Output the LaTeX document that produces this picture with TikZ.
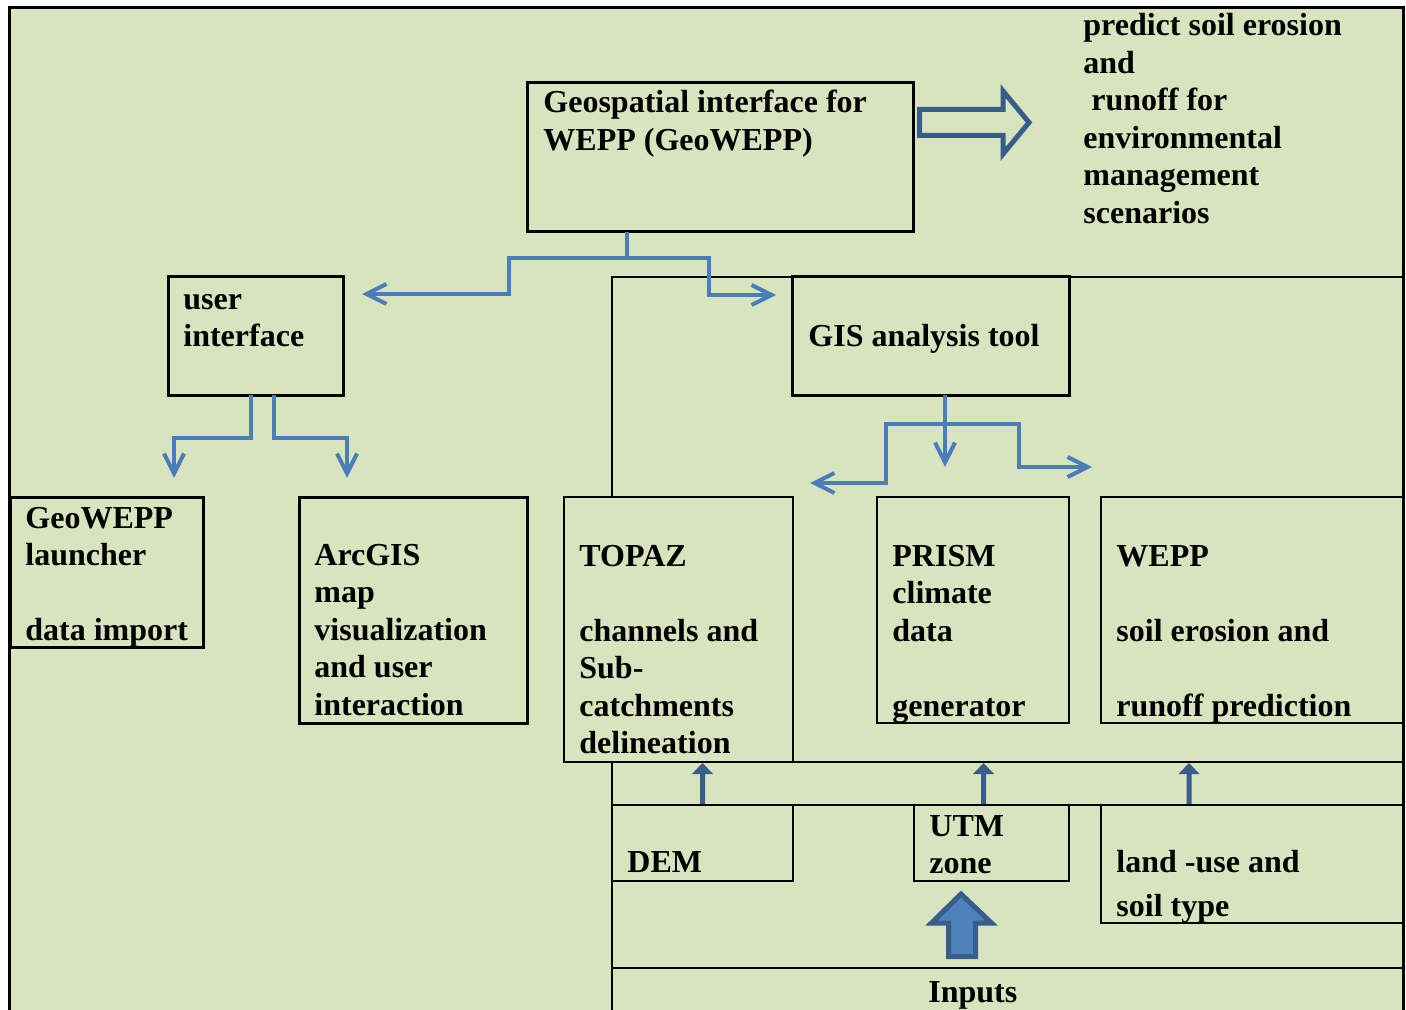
\documentclass[tikz,border=0pt]{standalone}
\usepackage{fontspec}
\setmainfont{Liberation Serif}
\usepackage[]{xcolor}
\usetikzlibrary{arrows.meta}
\usetikzlibrary{fit}
\definecolor{mybg}{HTML}{D7E4BD}
\definecolor{myblue}{HTML}{4A7EBB}
\definecolor{mydarkblue}{HTML}{385D8A}
\definecolor{myfill}{HTML}{4F81BD}
\tikzset{
  >=latex,
  box/.style={draw=black,line width=1.5pt,fill=mybg,inner sep=0,outer sep=0},
  box thin/.style={box,line width=1pt},
  txt/.style={font=\fontsize{16}{18.75}\selectfont\bfseries,inner sep=0,anchor=base west},
  connect/.style={line width=2pt,myblue},
  connect arrow/.style={-{Straight Barb[length=10pt,width=10pt]},line width=2pt,myblue},
  grid line/.style={line width=1pt,black}
}
\newcommand{\inarrow}[2]{\fill[mydarkblue] (#1) ++(#2,-1) ++(-2.5,0) -- ++(0,-30) -- ++(-8,0) -- ++(10.5,-11) -- ++(10.5,11) -- ++(-8,0) -- ++(0,30) -- cycle}
\newcommand{\lines}[1]{\begin{tabular}[t]{@{}l@{}}#1\end{tabular}}

\begin{document}
\begin{tikzpicture}[x=0.5pt,y=-0.5pt]
  \useasboundingbox (0,0) rectangle (1406,1010);
  \fill[mybg] (10,8) rectangle (1403,1010);
  % table lines on the right
  \draw[grid line] (1403,277) -- (612,277) -- (612,1010);
  \draw[grid line] (564,762) -- (1403,762);
  \draw[grid line] (612,805) -- (1403,805);
  \draw[grid line] (612,968) -- (1403,968);

  \node[box,fit={(527,83) (913,232)}] (geo) {};
  \node[box,fit={(168,277) (343,395)}] (ui) {};
  \node[box,fit={(792,277) (1069,395)}] (gis) {};
  \node[box,fit={(10,497) (203,647)}] (launcher) {};
  \node[box,fit={(299,497) (527,723)}] (arcgis) {};
  \node[box thin,fit={(564,497) (793,762)}] (topaz) {};
  \node[box thin,fit={(877,497) (1069,723)}] (prism) {};
  \node[box thin,fit={(1101,497) (1403,723)}] (wepp) {};
  \node[box thin,fit={(612,805) (793,881)}] (dem) {};
  \node[box thin,fit={(914,805) (1069,881)}] (utm) {};
  \node[box thin,fit={(1101,805) (1403,923)}] (land) {};

  \node[txt] (geo text) at (543,113) {\lines{Geospatial interface for\\WEPP (GeoWEPP)}};
  \node[txt] (goal) at (1083,36) {\lines{predict soil erosion\\and\\~runoff for\\environmental\\management\\scenarios}};
  \node[txt] (ui text) at (183,309) {\lines{user\\interface}};
  \node[txt] (gis text) at (808,346) {GIS analysis tool};
  \node[txt] (launcher text) at (25,528) {\lines{GeoWEPP\\launcher\\[18.75pt]data import}};
  \node[txt] (arcgis text) at (314,565) {\lines{ArcGIS\\map\\visualization\\and user\\interaction}};
  \node[txt] (topaz text) at (579,566) {\lines{TOPAZ\\[18.75pt]channels and\\Sub-\\catchments\\delineation}};
  \node[txt] (prism text) at (892,566) {\lines{PRISM\\climate\\data\\[18.75pt]generator}};
  \node[txt] (wepp text) at (1116,566) {\lines{WEPP\\[18.75pt]soil erosion and\\[18.75pt]runoff prediction}};
  \node[txt] (dem text) at (627,872) {DEM};
  \node[txt] (utm text) at (929,836) {\lines{UTM\\zone}};
  \node[txt] (land text) at (1116,872) {\lines{land -use and\\[3.5pt]soil type}};
  \node[txt] (inputs) at (928,1002) {Inputs};

  % blue connectors
  \draw[connect arrow] (geo.south west) ++(100,0) -- ++(0,26) -| ++(-118,36) -- ++(-147,0);
  \draw[connect arrow] (geo.south west) ++(100,26) -| ++(82,37) -- ++(67,0);
  \draw[connect arrow] (ui.south west) ++(83,0) |- ++(-77,43) -- ++(0,40);
  \draw[connect arrow] (ui.south west) ++(106,0) |- ++(73,43) -- ++(0,40);
  \draw[connect arrow] (gis.south west) ++(153,0) -- ++(0,72);
  \draw[connect arrow] (gis.south west) ++(153,29) -| ++(-59,59) -- ++(-76,0);
  \draw[connect arrow] (gis.south west) ++(153,29) -| ++(74,43) -- ++(73,0);

  % inputs going up
  \inarrow{dem.north}{0};
  \inarrow{utm.north}{-8};
  \inarrow{land.north west}{88};
  \draw[fill=myfill,draw=mydarkblue,line width=2.5pt] (948.5,956.5) -- (948.5,923) -- (931.5,923)
    -- (961,894) -- (991.5,923) -- (975.5,923) -- (975.5,956.5) -- cycle;

  % outcome arrow
  \draw[mydarkblue,line width=2.5pt] (919.5,109.5) -- (1003,109.5) -- (1003,91) -- (1029,122.5)
    -- (1003,154) -- (1003,135.5) -- (919.5,135.5) -- cycle;

  \draw[line width=1.5pt] (9.5,1010) -- (9.5,7.5) -- (1403,7.5) -- (1403,1010);
\end{tikzpicture}
\end{document}
